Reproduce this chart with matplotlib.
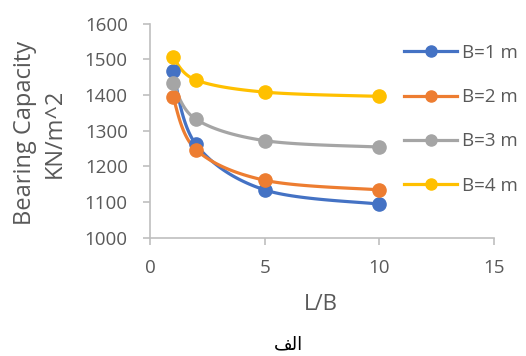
import numpy as np
import matplotlib
matplotlib.use('Agg')
import matplotlib.pyplot as plt
from matplotlib.lines import Line2D

plt.rcParams['font.family'] = ['Open Sans', 'DejaVu Sans']

lb = [1, 2, 5, 10]
b1 = [1467, 1262, 1134, 1094]
b2 = [1394, 1247, 1161, 1134]
b3 = [1434, 1332, 1272, 1254]
b4 = [1506, 1442, 1408, 1396]
labels = ['B=1 m', 'B=2 m', 'B=3 m', 'B=4 m']
colors = ['#4472C4', '#ED7D31', '#A5A5A5', '#FFC000']

fig = plt.figure(figsize=(5.26, 3.56), dpi=100)
ax = fig.add_axes([150/526, 1-237.7/356, 344/526, 214.1/356])
ax.set_xlim(0, 15)
ax.set_ylim(1000, 1600)


def smooth(x, y, sx, sy, n=30):
    # excel-like smooth line: cubic bezier through points, computed in screen-ish units
    p = np.column_stack([np.array(x, float) * sx, np.array(y, float) * sy])
    pts = [p[0]]
    for i in range(len(p) - 1):
        p0 = p[i - 1] if i > 0 else p[i]
        p3 = p[i + 2] if i + 2 < len(p) else p[i + 1]
        c1 = p[i] + (p[i + 1] - p0) / 6
        c2 = p[i + 1] - (p3 - p[i]) / 6
        t = np.linspace(0, 1, n)[1:, None]
        seg = ((1-t)**3) * p[i] + 3*((1-t)**2)*t*c1 + 3*(1-t)*t**2*c2 + t**3*p[i+1]
        pts.extend(seg)
    pts = np.array(pts)
    return pts[:, 0] / sx, pts[:, 1] / sy


sx = 344 / 15
sy = 214.1 / 600
handles = []
for ys, c, lab in zip([b1, b2, b3, b4], colors, labels):
    xs_, ys_ = smooth(lb, ys, sx, sy)
    ax.plot(xs_, ys_, color=c, lw=2.3, solid_capstyle='round', zorder=2)
    ax.plot(lb, ys, 'o', color=c, ms=9.5, zorder=3)
    handles.append(Line2D([], [], color=c, lw=2.3, marker='o', ms=8))

ax.spines['top'].set_visible(False)
ax.spines['right'].set_visible(False)
for s in ['left', 'bottom']:
    ax.spines[s].set_color('#BFBFBF')
    ax.spines[s].set_linewidth(1.2)
ax.set_xticks([0, 5, 10, 15])
ax.set_yticks(range(1000, 1601, 100))
ax.tick_params(colors='#BFBFBF', labelcolor='#595959', labelsize=13.5, length=5, width=1.2)
ax.tick_params(axis='y', pad=11)
ax.tick_params(axis='x', pad=10)

fig.text(40/526, 1-133/356, 'Bearing Capacity\nKN/m^2', rotation=90, ha='center', va='center',
         multialignment='center', fontsize=17, color='#595959', linespacing=1.3)
fig.text(321/526, 1-305/356, 'L/B', ha='center', va='center', fontsize=16, color='#595959')

ax.legend(handles, labels, loc='upper left', bbox_to_anchor=(404/526, 1-44/356),
          bbox_transform=fig.transFigure, frameon=False, borderpad=0, borderaxespad=0,
          fontsize=13.5, labelcolor='#595959', labelspacing=1.4, handlelength=2.85,
          handletextpad=0.25)

# "الف" in presentation forms, visual order
fig.text(288/526, 1-344/356, '\uFED2\uFEDF\uFE8D', ha='center', va='center',
         fontsize=13, color='black', family=['DejaVu Sans'])

fig.savefig('out.png', dpi=100)
